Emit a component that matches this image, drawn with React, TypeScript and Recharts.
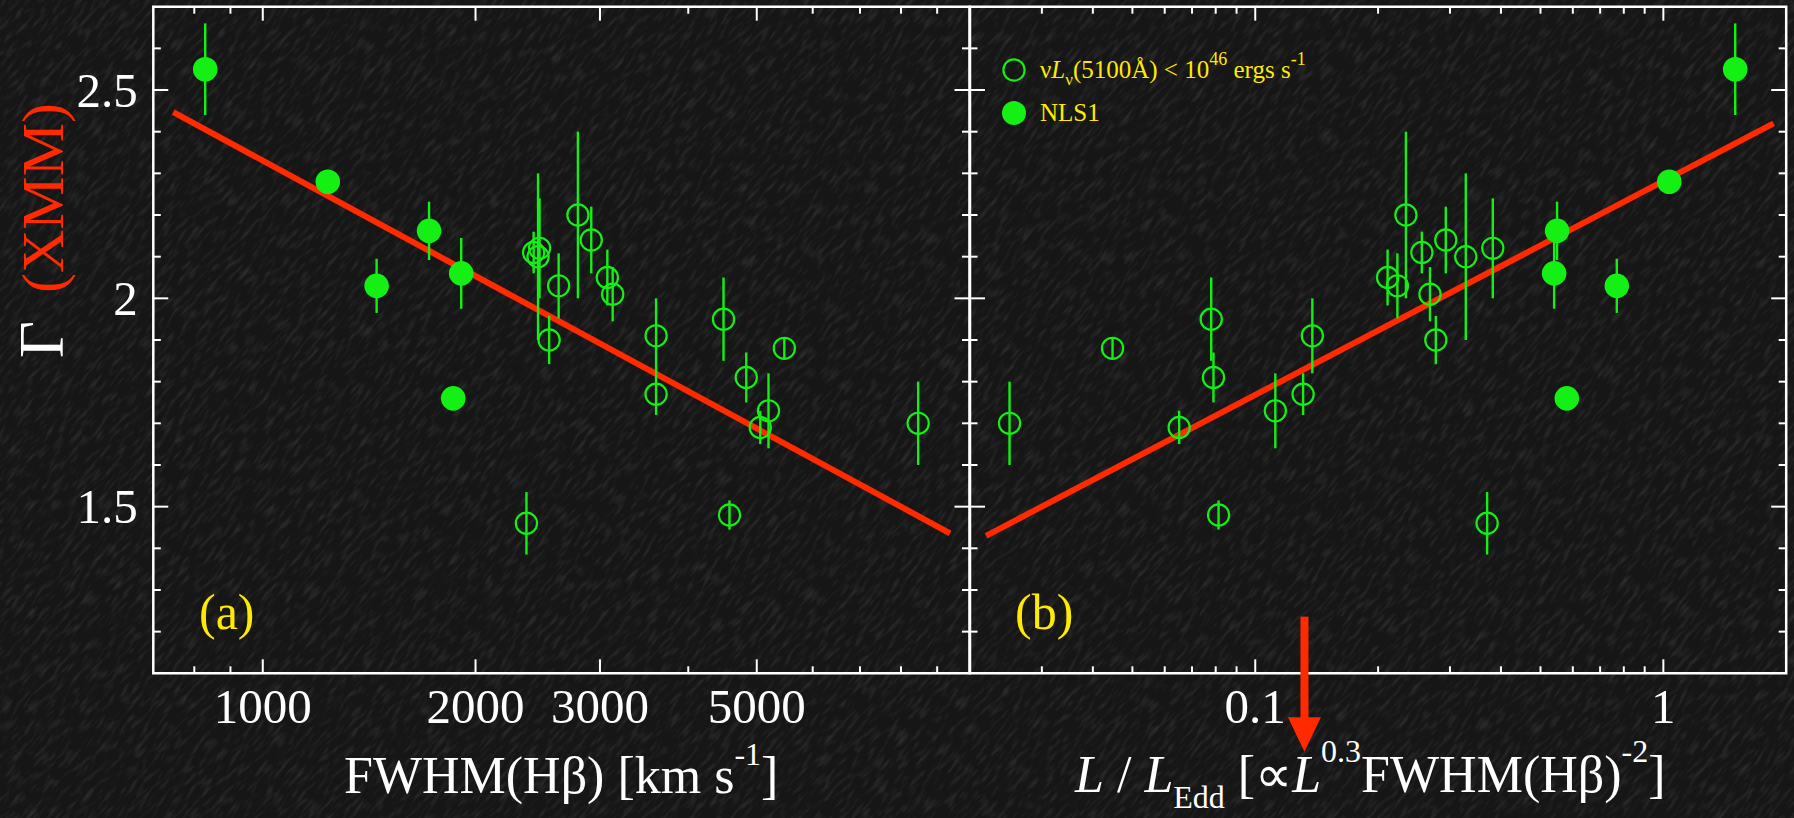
import {
  ErrorBar,
  ReferenceArea,
  ReferenceLine,
  Scatter,
  ScatterChart,
  XAxis,
  YAxis,
} from 'recharts';

// Γ(XMM) vs FWHM(Hβ) (panel a) and vs L/LEdd (panel b), same objects in both panels
const openFwhm = [2417, 2464, 2452, 2542, 2622, 2792, 2916, 3073, 3127, 3602, 3602, 4487, 4832, 5470, 5195, 5058, 8460, 4575, 2361];
const openEdd = [0.256, 0.382, 0.328, 0.277, 0.223, 0.234, 0.293, 0.211, 0.268, 0.138, 0.131, 0.078, 0.079, 0.0447, 0.112, 0.0651, 0.025, 0.0813, 0.37];
const openGamma = [2.11, 2.12, 2.1, 1.9, 2.03, 2.2, 2.14, 2.05, 2.01, 1.91, 1.77, 1.95, 1.81, 1.88, 1.73, 1.69, 1.7, 1.48, 1.46];
const openErr = [0.05, 0.12, 0.2, 0.058, 0.078, 0.2, 0.08, 0.067, 0.065, 0.09, 0.05, 0.1, 0.06, 0.025, 0.09, 0.04, 0.1, 0.035, 0.075];

const nlsFwhm = [829, 1236, 1449, 1719, 1909, 1860];
const nlsEdd = [1.5, 1.034, 0.769, 0.549, 0.54, 0.58];
const nlsGamma = [2.55, 2.28, 2.03, 2.162, 2.06, 1.76];
const nlsErr = [0.11, 0.02, 0.065, 0.07, 0.085, 0];

// fitted relations (end points)
const fitFwhm = [747, 9385];
const fitFwhmGamma = [2.447, 1.436];
const fitEdd = [0.0219, 1.863];
const fitEddGamma = [1.43, 2.42];

// arrow marking L/LEdd in panel b
const arrowEdd = 0.132;
const arrowTopGamma = 1.236;

const gammaDomain = [1.1, 2.7];
const gammaTicks = [1.2, 1.3, 1.4, 1.5, 1.6, 1.7, 1.8, 1.9, 2, 2.1, 2.2, 2.3, 2.4, 2.5, 2.6];
const gammaLabels = [1.5, 2, 2.5];
const fwhmDomain = [700, 10000];
const fwhmTicks = [800, 900, 1000, 2000, 3000, 4000, 5000, 6000, 7000, 8000, 9000];
const fwhmLabels = [1000, 2000, 3000, 5000];
const eddDomain = [0.02, 2];
const eddTicks = [0.03, 0.04, 0.05, 0.06, 0.07, 0.08, 0.09, 0.1, 0.2, 0.3, 0.4, 0.5, 0.6, 0.7, 0.8, 0.9, 1];
const eddLabels = [0.1, 1];

const GREEN = '#14f014';
const RED = '#ff2a00';
const YELLOW = '#ffeb00';
const WHITE = '#ffffff';
const FONT = '"Liberation Serif", "Times New Roman", serif';

const PLOT_W = 816.2;
const PLOT_H = 666.6;
const XAXIS_H = 60;
const YAXIS_W = 60;

const openA = openFwhm.map((x, i) => ({ x, y: openGamma[i], err: openErr[i] }));
const nlsA = nlsFwhm.map((x, i) => ({ x, y: nlsGamma[i], err: nlsErr[i] }));
const openB = openEdd.map((x, i) => ({ x, y: openGamma[i], err: openErr[i] }));
const nlsB = nlsEdd.map((x, i) => ({ x, y: nlsGamma[i], err: nlsErr[i] }));

const OpenDot = (p: any) => (
  <circle cx={p.cx} cy={p.cy} r={10.6} fill="none" stroke={GREEN} strokeWidth={2.2} />
);
const FilledDot = (p: any) => <circle cx={p.cx} cy={p.cy} r={12.3} fill={GREEN} />;

const xTick = (labels: number[]) => (props: any) => {
  const { x, y, payload } = props;
  const v = payload.value as number;
  const major = labels.includes(v);
  const len = major ? 14 : 7;
  return (
    <g>
      <line x1={x} x2={x} y1={y} y2={y - len} stroke={WHITE} strokeWidth={2} />
      <line x1={x} x2={x} y1={y - PLOT_H} y2={y - PLOT_H + len} stroke={WHITE} strokeWidth={2} />
      {major ? (
        <text x={x} y={y + 50} textAnchor="middle" fill={WHITE} fontFamily={FONT} fontSize={49}>
          {String(v)}
        </text>
      ) : null}
    </g>
  );
};

const yTick = (showLabels: boolean) => (props: any) => {
  const { x, y, payload } = props;
  const v = payload.value as number;
  const major = gammaLabels.some((m) => Math.abs(m - v) < 1e-6);
  const len = major ? 15 : 7.5;
  return (
    <g>
      <line x1={x} x2={x + len} y1={y} y2={y} stroke={WHITE} strokeWidth={2} />
      <line x1={x + PLOT_W} x2={x + PLOT_W - len} y1={y} y2={y} stroke={WHITE} strokeWidth={2} />
      {showLabels && major ? (
        <text x={x - 15.5} y={y + 16.5} textAnchor="end" fill={WHITE} fontFamily={FONT} fontSize={49}>
          {String(v)}
        </text>
      ) : null}
    </g>
  );
};

const ArrowShape = (props: any) => {
  const { x1, y1, y2 } = props;
  const shaftEnd = y2 + 44;
  return (
    <g>
      <rect x={x1 - 4} y={y1} width={8} height={shaftEnd - y1 + 1} fill={RED} />
      <polygon points={`${x1 - 16.5},${shaftEnd} ${x1 + 16.5},${shaftEnd} ${x1},${y2 + 78.5}`} fill={RED} />
    </g>
  );
};

function Background() {
  return (
    <svg width={1794} height={818} style={{ position: 'absolute', left: 0, top: 0 }}>
      <defs>
        <filter id="grain">
          <feTurbulence type="fractalNoise" baseFrequency="0.25 0.06" numOctaves={2} seed={7} />
          <feColorMatrix type="matrix" values="0 0 0 0 1  0 0 0 0 1  0 0 0 0 1  1.6 0 0 0 -0.75" />
        </filter>
      </defs>
      <rect x={0} y={0} width={1794} height={818} fill="#161616" />
      <g transform="rotate(40 897 409)" opacity={0.15}>
        <rect x={-500} y={-700} width={2800} height={2200} filter="url(#grain)" />
      </g>
    </svg>
  );
}

function Overlay() {
  return (
    <svg
      width={1794}
      height={818}
      style={{ position: 'absolute', left: 0, top: 0, pointerEvents: 'none' }}
      fontFamily={FONT}
    >
      {/* y title */}
      <text transform="rotate(-90 63 358)" x={63} y={358} fontSize={60}>
        <tspan fill={WHITE} fontSize={64}>Γ</tspan>
        <tspan dx={28} fill={RED}>(XMM)</tspan>
      </text>

      {/* x titles */}
      <text x={344} y={793} fontSize={52} fill={WHITE}>
        FWHM(Hβ) [km s
        <tspan dy={-28} fontSize={32}>-1</tspan>
        <tspan dy={28}>]</tspan>
      </text>
      <text x={1075} y={792} fontSize={52} fill={WHITE}>
        <tspan fontStyle="italic">L</tspan>
        <tspan>{' / '}</tspan>
        <tspan fontStyle="italic">L</tspan>
        <tspan dy={16} fontSize={32}>Edd</tspan>
        <tspan dy={-16}>{' [∝'}</tspan>
        <tspan fontStyle="italic">L</tspan>
        <tspan dy={-30} fontSize={32}>0.3</tspan>
        <tspan dy={30}>FWHM(Hβ)</tspan>
        <tspan dy={-30} fontSize={32}>-2</tspan>
        <tspan dy={30}>]</tspan>
      </text>

      {/* panel letters */}
      <text x={199} y={629} fontSize={50} fill={YELLOW}>(a)</text>
      <text x={1015} y={629} fontSize={50} fill={YELLOW}>(b)</text>

      {/* legend */}
      <circle cx={1014} cy={70} r={10.6} fill="none" stroke={GREEN} strokeWidth={2.2} />
      <circle cx={1014} cy={113} r={12} fill={GREEN} />
      <text x={1040} y={78} fontSize={25} fill={YELLOW}>
        <tspan>ν</tspan>
        <tspan fontStyle="italic">L</tspan>
        <tspan dy={7} fontSize={17}>ν</tspan>
        <tspan dy={-7}>(5100Å) &lt; 10</tspan>
        <tspan dy={-13} fontSize={18}>46</tspan>
        <tspan dy={13}>{' ergs s'}</tspan>
        <tspan dy={-13} fontSize={18}>-1</tspan>
      </text>
      <text x={1040} y={121} fontSize={25} fill={YELLOW}>NLS1</text>
    </svg>
  );
}

export default function App() {
  return (
    <div style={{ position: 'absolute', left: 0, top: 0, width: 1794, height: 818, overflow: 'hidden' }}>
      <Background />

      <div style={{ position: 'absolute', left: 0, top: 0 }}>
        <ScatterChart
          width={980}
          height={818}
          margin={{ top: 6.7, right: 10.5, bottom: 818 - 6.7 - PLOT_H - XAXIS_H, left: 153.3 - YAXIS_W }}
        >
          <XAxis
            dataKey="x"
            type="number"
            scale="log"
            domain={fwhmDomain}
            allowDataOverflow
            ticks={fwhmTicks}
            interval={0}
            tick={xTick(fwhmLabels)}
            tickLine={false}
            axisLine={false}
            tickSize={0}
            tickMargin={0}
            height={XAXIS_H}
          />
          <YAxis
            dataKey="y"
            type="number"
            domain={gammaDomain}
            allowDataOverflow
            ticks={gammaTicks}
            interval={0}
            tick={yTick(true)}
            tickLine={false}
            axisLine={false}
            tickSize={0}
            tickMargin={0}
            width={YAXIS_W}
          />
          <ReferenceArea
            x1={fwhmDomain[0]}
            x2={fwhmDomain[1]}
            y1={gammaDomain[0]}
            y2={gammaDomain[1]}
            fill="none"
            fillOpacity={0}
            stroke={WHITE}
            strokeWidth={2.5}
          />
          <ReferenceLine
            segment={[
              { x: fitFwhm[0], y: fitFwhmGamma[0] },
              { x: fitFwhm[1], y: fitFwhmGamma[1] },
            ]}
            stroke={RED}
            strokeWidth={6}
          />
          <Scatter data={openA} shape={OpenDot} isAnimationActive={false}>
            <ErrorBar dataKey="err" direction="y" width={0} stroke={GREEN} strokeWidth={2.4} isAnimationActive={false} />
          </Scatter>
          <Scatter data={nlsA} shape={FilledDot} isAnimationActive={false}>
            <ErrorBar dataKey="err" direction="y" width={0} stroke={GREEN} strokeWidth={2.4} isAnimationActive={false} />
          </Scatter>
        </ScatterChart>
      </div>

      <div style={{ position: 'absolute', left: 899.5, top: 0 }}>
        <ScatterChart
          width={894.5}
          height={818}
          margin={{ top: 6.7, right: 8.3, bottom: 818 - 6.7 - PLOT_H - XAXIS_H, left: 70 - YAXIS_W }}
        >
          <XAxis
            dataKey="x"
            type="number"
            scale="log"
            domain={eddDomain}
            allowDataOverflow
            ticks={eddTicks}
            interval={0}
            tick={xTick(eddLabels)}
            tickLine={false}
            axisLine={false}
            tickSize={0}
            tickMargin={0}
            height={XAXIS_H}
          />
          <YAxis
            dataKey="y"
            type="number"
            domain={gammaDomain}
            allowDataOverflow
            ticks={gammaTicks}
            interval={0}
            tick={yTick(false)}
            tickLine={false}
            axisLine={false}
            tickSize={0}
            tickMargin={0}
            width={YAXIS_W}
          />
          <ReferenceArea
            x1={eddDomain[0]}
            x2={eddDomain[1]}
            y1={gammaDomain[0]}
            y2={gammaDomain[1]}
            fill="none"
            fillOpacity={0}
            stroke={WHITE}
            strokeWidth={2.5}
          />
          <ReferenceLine
            segment={[
              { x: fitEdd[0], y: fitEddGamma[0] },
              { x: fitEdd[1], y: fitEddGamma[1] },
            ]}
            stroke={RED}
            strokeWidth={6}
          />
          <ReferenceLine
            segment={[
              { x: arrowEdd, y: arrowTopGamma },
              { x: arrowEdd, y: gammaDomain[0] },
            ]}
            shape={ArrowShape}
          />
          <Scatter data={openB} shape={OpenDot} isAnimationActive={false}>
            <ErrorBar dataKey="err" direction="y" width={0} stroke={GREEN} strokeWidth={2.4} isAnimationActive={false} />
          </Scatter>
          <Scatter data={nlsB} shape={FilledDot} isAnimationActive={false}>
            <ErrorBar dataKey="err" direction="y" width={0} stroke={GREEN} strokeWidth={2.4} isAnimationActive={false} />
          </Scatter>
        </ScatterChart>
      </div>

      <Overlay />
    </div>
  );
}
